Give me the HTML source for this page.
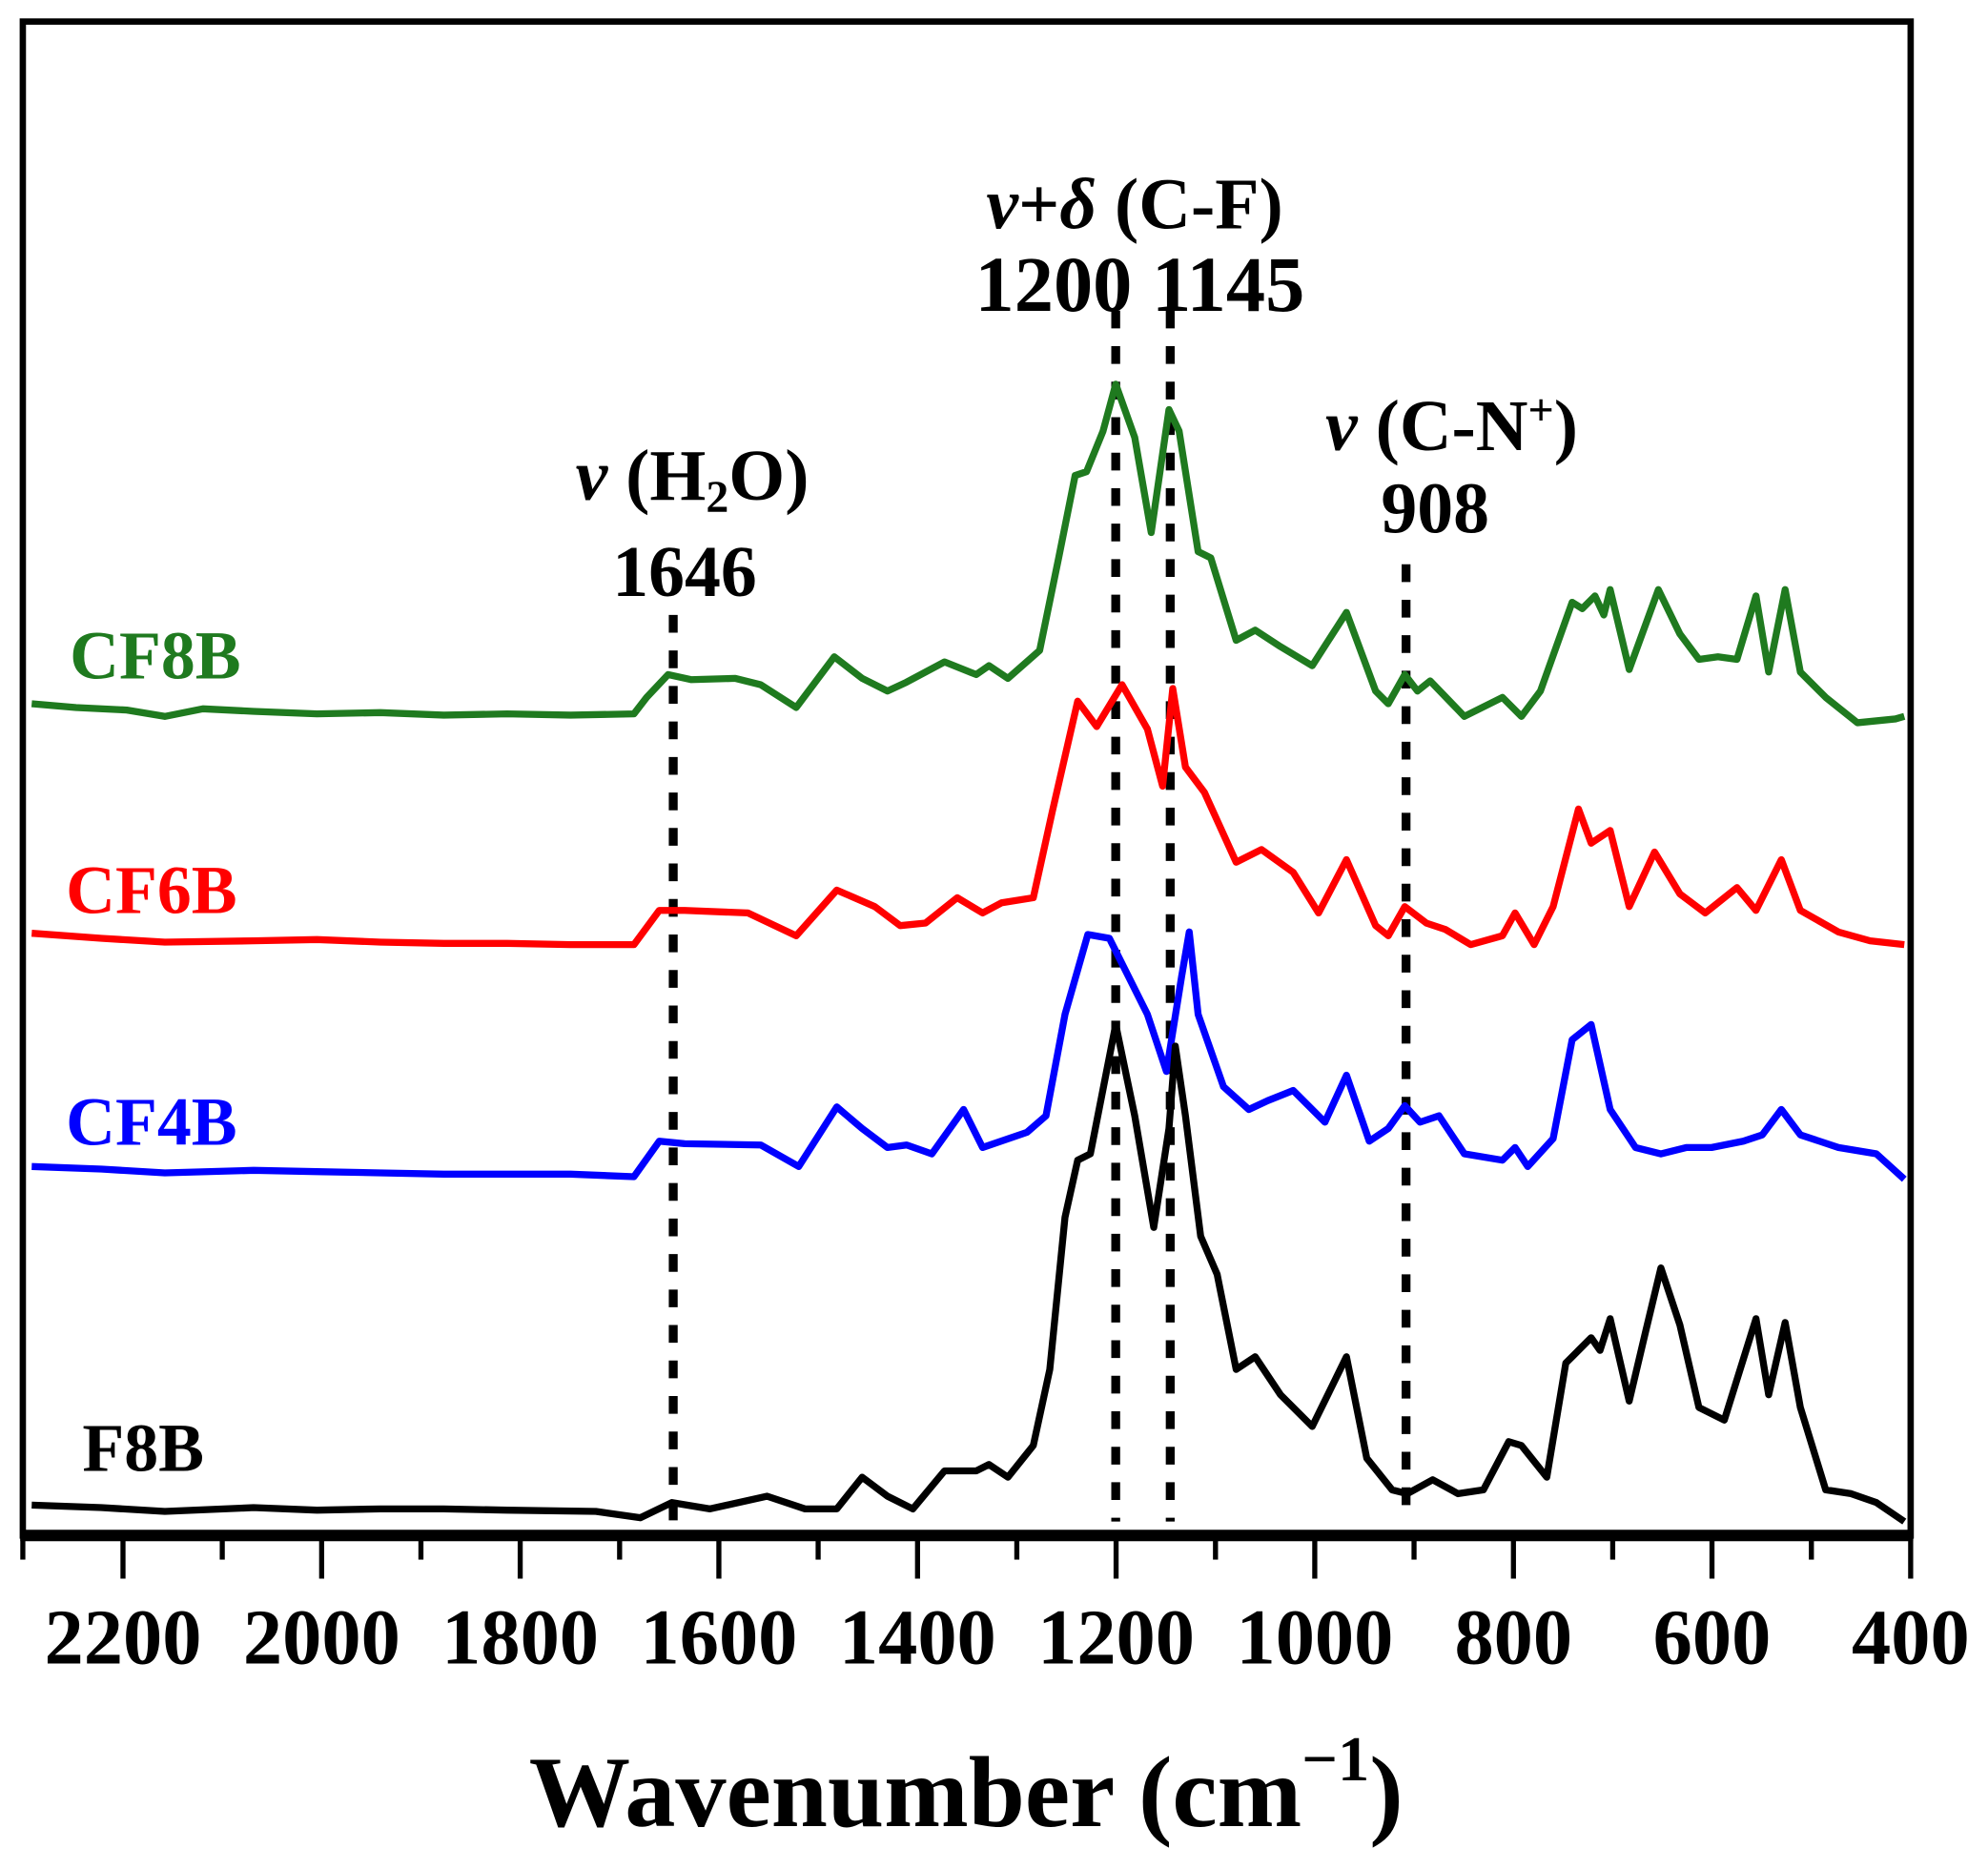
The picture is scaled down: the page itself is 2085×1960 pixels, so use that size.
<!DOCTYPE html>
<html><head><meta charset="utf-8"><style>
html,body{margin:0;padding:0;background:#fff;}
svg{display:block;}
text{font-family:"Liberation Serif",serif;font-weight:bold;}
</style></head><body>
<svg width="2085" height="1960" viewBox="0 0 1568 1474" xmlns="http://www.w3.org/2000/svg">
<rect x="0" y="0" width="1568" height="1474" fill="#fff"/>
<g stroke="#000" stroke-width="7" stroke-dasharray="14,14" fill="none">
<line x1="531" y1="485" x2="531" y2="1200"/>
<line x1="880" y1="245" x2="880" y2="1200"/>
<line x1="923" y1="245" x2="923" y2="1200"/>
<line x1="1109" y1="445" x2="1109" y2="1200"/>
</g>
<g fill="none" stroke-width="5.5" stroke-linejoin="round">
<polyline stroke="#1f7a1f" points="25,555 60,558 100,560 130,565 160,559 200,561 250,563 300,562 350,564 400,563 450,564 500,563 510,550 527,532 545,536 580,535 600,540 628,558 658,518 680,535 700,545 715,538 745,522 770,532 780,525 795,535 820,513 835,440 848,375 857,372 870,340 880,303 895,345 908,420 922,323 930,340 945,435 955,440 975,505 990,497 1010,510 1035,525 1062,483 1085,545 1095,555 1108,532 1118,545 1128,537 1155,565 1185,550 1200,565 1215,545 1240,475 1248,480 1258,470 1265,485 1270,465 1285,528 1308,465 1325,500 1340,520 1355,518 1370,520 1385,470 1395,530 1408,465 1420,530 1440,550 1465,570 1495,567 1502,565"/>
<polyline stroke="#ff0000" points="25,736 80,740 130,743 200,742 250,741 300,743 350,744 400,744 450,745 500,745 520,718 540,718 590,720 628,738 660,702 690,715 710,730 730,728 755,708 775,720 790,712 815,708 830,640 850,553 865,573 885,540 905,575 917,620 925,543 935,605 950,625 975,680 995,670 1020,688 1040,720 1062,678 1085,730 1095,738 1108,715 1125,728 1140,733 1160,745 1185,738 1195,720 1210,745 1225,715 1245,638 1255,665 1270,655 1285,715 1305,672 1325,705 1345,720 1370,700 1385,718 1405,678 1420,718 1450,735 1475,742 1502,745"/>
<polyline stroke="#0000ff" points="25,920 80,922 130,925 200,923 250,924 300,925 350,926 400,926 450,926 500,928 520,900 540,902 600,903 630,920 660,873 680,890 700,905 715,903 735,910 760,875 775,905 810,893 825,880 840,800 858,737 875,740 890,770 905,800 920,845 932,770 938,735 945,800 965,857 985,875 1000,868 1020,860 1045,885 1062,848 1080,900 1095,890 1108,872 1120,885 1135,880 1155,910 1185,915 1195,905 1205,920 1225,898 1240,820 1255,808 1270,875 1290,905 1310,910 1330,905 1350,905 1375,900 1390,895 1405,875 1420,895 1450,905 1480,910 1502,930"/>
<polyline stroke="#000" points="25,1187 80,1189 130,1192 200,1189 250,1191 300,1190 350,1190 400,1191 470,1192 505,1197 530,1185 560,1190 605,1180 635,1190 660,1190 680,1165 700,1180 720,1190 745,1160 770,1160 780,1155 795,1165 815,1140 828,1080 840,960 850,915 860,910 880,808 895,880 910,968 922,890 927,825 935,880 947,975 960,1005 975,1080 990,1070 1010,1100 1035,1125 1062,1070 1078,1150 1098,1175 1110,1178 1130,1167 1150,1178 1170,1175 1190,1137 1200,1140 1220,1165 1235,1075 1245,1065 1255,1055 1262,1065 1270,1040 1285,1105 1298,1050 1310,1000 1325,1045 1340,1110 1360,1120 1385,1040 1395,1100 1408,1043 1420,1110 1440,1175 1460,1178 1480,1185 1502,1200"/>
</g>
<rect x="18" y="17" width="1489" height="1194" fill="none" stroke="#000" stroke-width="5"/>
<line x1="16" y1="1211" x2="1509" y2="1211" stroke="#000" stroke-width="9"/>
<g stroke="#000" stroke-width="4">
<line x1="97" y1="1211" x2="97" y2="1245"/><line x1="253.7" y1="1211" x2="253.7" y2="1245"/><line x1="410.3" y1="1211" x2="410.3" y2="1245"/><line x1="567" y1="1211" x2="567" y2="1245"/><line x1="723.7" y1="1211" x2="723.7" y2="1245"/><line x1="880.3" y1="1211" x2="880.3" y2="1245"/><line x1="1037" y1="1211" x2="1037" y2="1245"/><line x1="1193.7" y1="1211" x2="1193.7" y2="1245"/><line x1="1350.3" y1="1211" x2="1350.3" y2="1245"/><line x1="1507" y1="1211" x2="1507" y2="1245"/>
<line x1="18" y1="1211" x2="18" y2="1230"/><line x1="175.3" y1="1211" x2="175.3" y2="1230"/><line x1="332" y1="1211" x2="332" y2="1230"/><line x1="488.7" y1="1211" x2="488.7" y2="1230"/><line x1="645.3" y1="1211" x2="645.3" y2="1230"/><line x1="802" y1="1211" x2="802" y2="1230"/><line x1="958.7" y1="1211" x2="958.7" y2="1230"/><line x1="1115.3" y1="1211" x2="1115.3" y2="1230"/><line x1="1272" y1="1211" x2="1272" y2="1230"/><line x1="1428.7" y1="1211" x2="1428.7" y2="1230"/>
</g>
<g font-size="62" text-anchor="middle" fill="#000">
<text x="97" y="1312">2200</text><text x="253.7" y="1312">2000</text><text x="410.3" y="1312">1800</text><text x="567" y="1312">1600</text><text x="723.7" y="1312">1400</text><text x="880.3" y="1312">1200</text><text x="1037" y="1312">1000</text><text x="1193.7" y="1312">800</text><text x="1350.3" y="1312">600</text><text x="1507" y="1312">400</text>
</g>
<text x="762" y="1440" font-size="80" text-anchor="middle">Wavenumber (cm<tspan font-size="50" dy="-36">−1</tspan><tspan dy="36">)</tspan></text>
<g font-size="54">
<text x="55" y="535" fill="#1f7a1f">CF8B</text>
<text x="52" y="720" fill="#ff0000">CF6B</text>
<text x="52" y="903" fill="#0000ff">CF4B</text>
<text x="65" y="1160" fill="#000">F8B</text>
</g>
<g font-size="57" text-anchor="middle" fill="#000">
<text x="546" y="394"><tspan font-style="italic">ν</tspan> (H<tspan font-size="36" dy="10">2</tspan><tspan dy="-10">O)</tspan></text>
<text x="540" y="470">1646</text>
<text x="895" y="180"><tspan font-style="italic">ν</tspan>+<tspan font-style="italic">δ</tspan> (C-F)</text>
<text x="899" y="245" font-size="62">1200 1145</text>
<text x="1145" y="355"><tspan font-style="italic">ν</tspan> (C-N<tspan font-size="36" dy="-20">+</tspan><tspan dy="20">)</tspan></text>
<text x="1132" y="420">908</text>
</g>
</svg>
</body></html>
